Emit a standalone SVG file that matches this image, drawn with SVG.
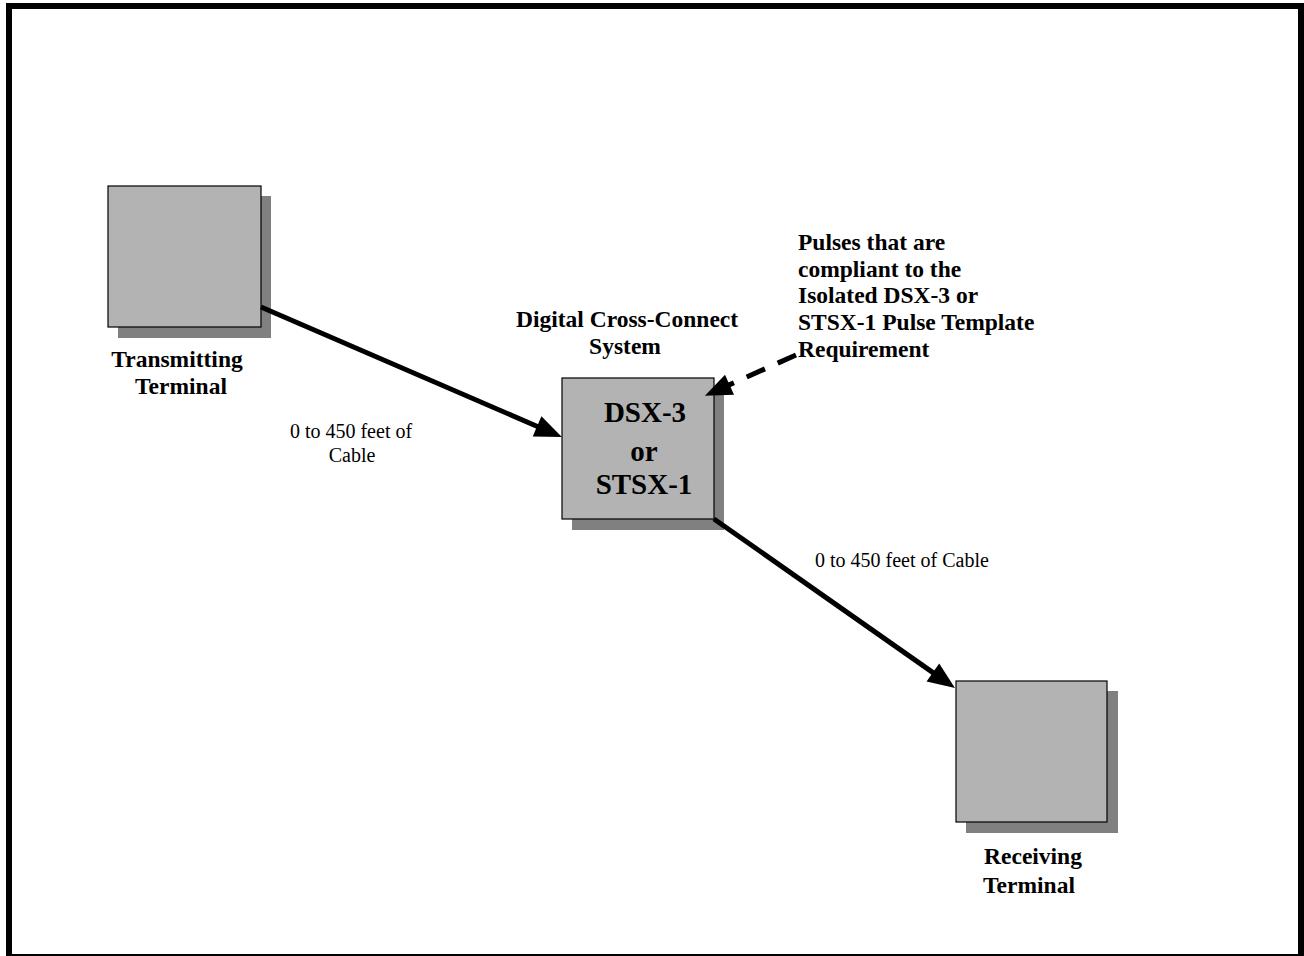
<svg xmlns="http://www.w3.org/2000/svg" width="1304" height="956" viewBox="0 0 1304 956">
<style>
.box{fill:#b3b3b3;stroke:#000;stroke-width:1.2}
.shadow{fill:#808080}
.lbl{font-family:"Liberation Serif","Times New Roman",serif;font-weight:bold;font-size:23.5px;fill:#000}
.big{font-family:"Liberation Serif","Times New Roman",serif;font-weight:bold;font-size:29px;fill:#000}
.small{font-family:"Liberation Serif","Times New Roman",serif;font-size:20px;fill:#000}
.conn{stroke:#000;stroke-width:5;fill:none}
.dash{stroke-dasharray:20 14}
</style>
<defs>
<marker id="ah" markerUnits="userSpaceOnUse" markerWidth="40" markerHeight="40" refX="0" refY="0" orient="auto" overflow="visible">
<path d="M-1,-11 L26,0 L-1,11 Z" fill="#000"/>
</marker>
</defs>
<rect x="9" y="6" width="1292" height="951" fill="#fff" stroke="#000" stroke-width="6"/>
<g id="transmitting">
<rect class="shadow" x="118" y="196" width="153" height="142"/>
<rect class="box" x="108" y="186" width="153" height="141"/>
<text class="lbl" x="177" y="366.5" text-anchor="middle">Transmitting</text>
<text class="lbl" x="181" y="394" text-anchor="middle">Terminal</text>
</g>
<g id="dsx">
<text class="lbl" x="627" y="326.5" text-anchor="middle">Digital Cross-Connect</text>
<text class="lbl" x="625" y="353.5" text-anchor="middle">System</text>
<rect class="shadow" x="572" y="388" width="152" height="142"/>
<rect class="box" x="562" y="378" width="152" height="141"/>
<text class="big" x="645" y="421.5" text-anchor="middle">DSX-3</text>
<text class="big" x="644" y="461" text-anchor="middle">or</text>
<text class="big" x="644" y="494" text-anchor="middle">STSX-1</text>
</g>
<g id="receiving">
<rect class="shadow" x="966" y="691" width="152" height="142"/>
<rect class="box" x="956" y="681" width="151" height="141"/>
<text class="lbl" x="1033" y="864" text-anchor="middle">Receiving</text>
<text class="lbl" x="1029" y="893" text-anchor="middle">Terminal</text>
</g>
<g id="pulses-note">
<text class="lbl" x="798" y="250" font-size="24">Pulses that are</text>
<text class="lbl" x="798" y="276.7">compliant to the</text>
<text class="lbl" x="798" y="303.3">Isolated DSX-3 or</text>
<text class="lbl" x="798" y="330">STSX-1 Pulse Template</text>
<text class="lbl" x="798" y="356.7">Requirement</text>
</g>
<g id="cable-labels">
<text class="small" x="351" y="438.3" text-anchor="middle">0 to 450 feet of</text>
<text class="small" x="352" y="462.3" text-anchor="middle">Cable</text>
<text class="small" x="815" y="567.3">0 to 450 feet of Cable</text>
</g>
<g id="connectors">
<line class="conn" x1="261" y1="307" x2="538" y2="426.7" marker-end="url(#ah)"/>
<line class="conn" x1="714" y1="519" x2="933.7" y2="673.1" marker-end="url(#ah)"/>
<line class="conn dash" x1="796" y1="355" x2="728.6" y2="385.1" marker-end="url(#ah)"/>
</g>
</svg>
